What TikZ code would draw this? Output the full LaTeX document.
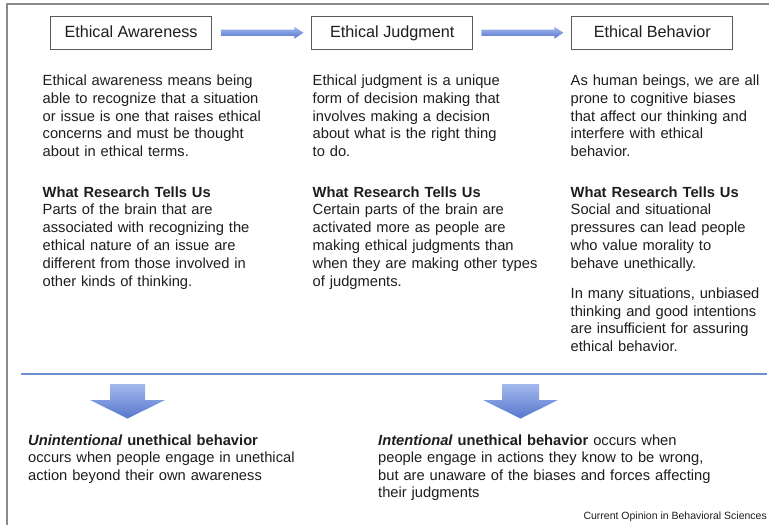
\documentclass[tikz,border=0pt]{standalone}
\usepackage{fontspec}
\setmainfont{Liberation Sans}
\usetikzlibrary{calc}
\definecolor{txt}{HTML}{1E1E1E}
\definecolor{framec}{HTML}{8A8A8A}
\definecolor{boxc}{HTML}{5A5A5A}
\definecolor{blueT}{HTML}{A3B9EE}
\definecolor{blueB}{HTML}{5576CC}
\definecolor{sepc}{HTML}{6F8ED0}
\tikzset{
  lbl/.style={draw=boxc, line width=0.9pt, minimum width=161pt, minimum height=33pt,
    inner sep=0pt, text height=11.5pt, text depth=2pt,
    font=\fontsize{16.2}{19}\selectfont, text=txt},
  body/.style={anchor=base west, text width=270pt, align=left, inner sep=0pt,
    font=\fontsize{14.7}{17.8}\selectfont, text=txt},
  bottomtxt/.style={anchor=base west, text width=360pt, align=left, inner sep=0pt,
    font=\fontsize{14.7}{17.5}\selectfont, text=txt},
  hshade/.style={top color=blueT, bottom color=blueB, draw=none},
  vshade/.style={top color=blueT, bottom color=blueB, draw=none},
}
\begin{document}
\begin{tikzpicture}[x=1pt,y=-1pt]
\useasboundingbox (0,0) rectangle (769,525);
\fill[white] (0,0) rectangle (769,525);
% outer frame
\draw[framec, line width=1.2pt] (769,4) -- (7,4) -- (7,525);
% top boxes
\node[lbl] (b1) at (131,32.7) {Ethical Awareness};
\node[lbl] (b2) at (392.3,32.7) {Ethical Judgment};
\node[lbl] (b3) at (652.3,32.7) {Ethical Behavior};
% arrows between boxes
\path[hshade] ($(b1.east)+(9,-3.2)$) -- ($(b2.west)+(-17,-3.2)$) -- ($(b2.west)+(-17,-6)$)
  -- ($(b2.west)+(-8,0)$) -- ($(b2.west)+(-17,6)$) -- ($(b2.west)+(-17,3.2)$)
  -- ($(b1.east)+(9,3.2)$) -- cycle;
\path[hshade] ($(b2.east)+(8,-3.2)$) -- ($(b3.west)+(-17,-3.2)$) -- ($(b3.west)+(-17,-6)$)
  -- ($(b3.west)+(-8,0)$) -- ($(b3.west)+(-17,6)$) -- ($(b3.west)+(-17,3.2)$)
  -- ($(b2.east)+(8,3.2)$) -- cycle;
% column 1
\node[body] (c1a) at (42.5,85.5) {Ethical awareness means being\\able to recognize that a situation\\or issue is one that raises ethical\\concerns and must be thought\\about in ethical terms.};
\node[body] (c1b) at (42.5,197) {\textbf{What Research Tells Us}\\Parts of the brain that are\\associated with recognizing the\\ethical nature of an issue are\\different from those involved in\\other kinds of thinking.};
% column 2
\node[body] (c2a) at (312.5,85.5) {Ethical judgment is a unique\\form of decision making that\\involves making a decision\\about what is the right thing\\to do.};
\node[body] (c2b) at (312.5,197) {\textbf{What Research Tells Us}\\Certain parts of the brain are\\activated more as people are\\making ethical judgments than\\when they are making other types\\of judgments.};
% column 3
\node[body] (c3a) at (570.5,85.5) {As human beings, we are all\\prone to cognitive biases\\that affect our thinking and\\interfere with ethical\\behavior.};
\node[body] (c3b) at (570.5,197) {\textbf{What Research Tells Us}\\Social and situational\\pressures can lead people\\who value morality to\\behave unethically.};
\node[body] (c3c) at (570.5,298.3) {In many situations, unbiased\\thinking and good intentions\\are insufficient for assuring\\ethical behavior.};
% separator line
\draw[sepc, line width=2pt] (21,374) -- (767,374);
% down arrows
\path[vshade] (110,384) -- (145,384) -- (145,400) -- (165,400) -- (127.5,418.5) -- (90,400) -- (110,400) -- cycle;
\path[vshade] (502,384) -- (539,384) -- (539,400) -- (558,400) -- (520.5,418.5) -- (483,400) -- (502,400) -- cycle;
% bottom texts
\node[bottomtxt] (u1) at (28,445) {\textbf{\textit{Unintentional} unethical behavior}\\occurs when people engage in unethical\\action beyond their own awareness};
\node[bottomtxt] (u2) at (378,445) {\textbf{\textit{Intentional} unethical behavior} occurs when\\people engage in actions they know to be wrong,\\but are unaware of the biases and forces affecting\\their judgments};
% credit
\node[anchor=base east, inner sep=0pt, font=\fontsize{10.5}{12}\selectfont, text=txt] (cr) at (767,519) {Current Opinion in Behavioral Sciences};
\end{tikzpicture}
\end{document}
